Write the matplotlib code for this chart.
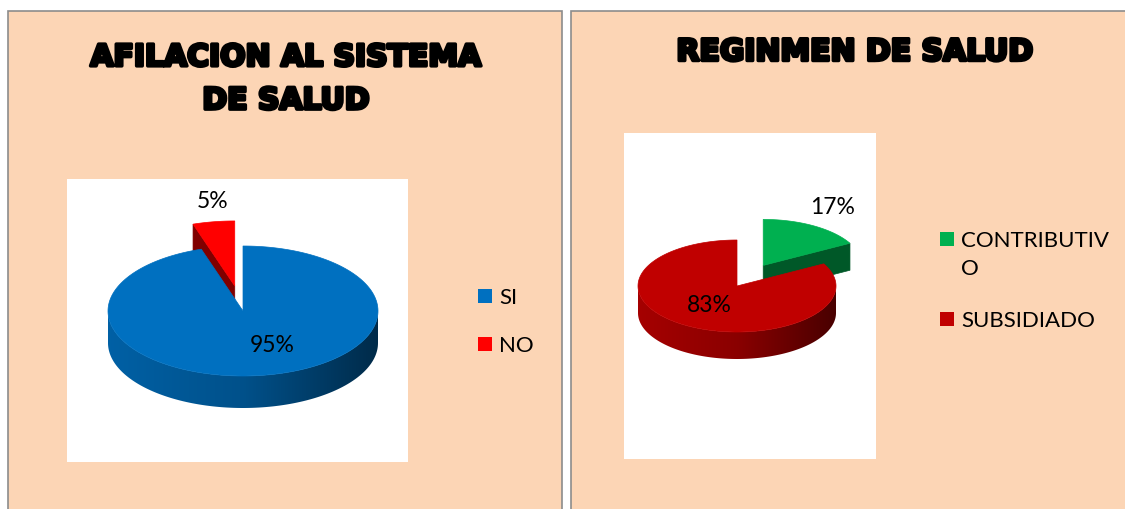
import numpy as np
import matplotlib
matplotlib.use("Agg")
import matplotlib.pyplot as plt
from matplotlib.patches import Rectangle, Polygon
from matplotlib.colors import to_rgb, LinearSegmentedColormap
import matplotlib.patheffects as pe

# Données
titulo_1 = "AFILACION AL SISTEMA\nDE SALUD"
categorias_1 = ["SI", "NO"]
valores_1 = [95, 5]
colores_1 = ["#0070C0", "#FF0000"]
separacion_1 = [0.0, 0.39]

titulo_2 = "REGINMEN DE SALUD"
categorias_2 = ["CONTRIBUTIVO", "SUBSIDIADO"]
valores_2 = [17, 83]
colores_2 = ["#00B050", "#C00000"]
separacion_2 = [0.52, 0.0]

W, H = 1125, 510
PEACH = "#FCD5B5"
FONT = "Lato"


def sombra(color, f):
    r, g, b = to_rgb(color)
    return (r * f, g * f, b * f)


def pie3d(ax, valores, colores, separacion, tilt, depth):
    total = float(sum(valores))
    inicio = 0.0
    trozos = []
    for v, c, e in zip(valores, colores, separacion):
        a1 = inicio
        a2 = inicio + 360.0 * v / total
        inicio = a2
        trozos.append((a1, a2, c, e))
    # los trozos de atras primero
    orden = sorted(range(len(trozos)),
                   key=lambda i: -trozos[i][3] * np.cos(np.radians((trozos[i][0] + trozos[i][1]) / 2)))
    z = 1
    for i in orden:
        a1, a2, c, e = trozos[i]
        mid = np.radians((a1 + a2) / 2)
        ox, oy = e * np.sin(mid), e * np.cos(mid)

        def scr(px, py, h=0.0):
            return (px, py * tilt + h)

        # caras de corte
        for a, vis in ((a1, np.sin(np.radians(a1)) < -1e-6), (a2, np.sin(np.radians(a2)) > 1e-6)):
            if vis:
                ex, ey = ox + np.sin(np.radians(a)), oy + np.cos(np.radians(a))
                pts = [scr(ox, oy), scr(ex, ey), scr(ex, ey, -depth), scr(ox, oy, -depth)]
                ax.add_patch(Polygon(pts, closed=True, facecolor=sombra(c, 0.5),
                                     edgecolor=sombra(c, 0.5), lw=0.5, zorder=z))
        # pared exterior (frente) con degradado
        w1, w2 = max(a1, 90.0), min(a2, 270.0)
        if w2 > w1:
            t = np.radians(np.linspace(w1, w2, 120))
            top = [scr(ox + np.sin(tt), oy + np.cos(tt)) for tt in t]
            bot = [scr(ox + np.sin(tt), oy + np.cos(tt), -depth) for tt in t[::-1]]
            pared = Polygon(top + bot, closed=True, facecolor="none", edgecolor="none", zorder=z)
            ax.add_patch(pared)
            cmap = LinearSegmentedColormap.from_list(
                "g", [sombra(c, 0.86), sombra(c, 0.72), sombra(c, 0.38)])
            grad = np.linspace(0, 1, 256).reshape(1, -1)
            im = ax.imshow(grad, cmap=cmap, aspect="auto", interpolation="bilinear",
                           extent=(ox - 1, ox + 1, oy * tilt - tilt - depth - 0.05, oy * tilt + 0.05),
                           zorder=z)
            im.set_clip_path(pared)
        # cara superior
        t = np.radians(np.linspace(a1, a2, 200))
        pts = [scr(ox, oy)] + [scr(ox + np.sin(tt), oy + np.cos(tt)) for tt in t]
        ax.add_patch(Polygon(pts, closed=True, facecolor=c, edgecolor=c, lw=0.5, zorder=z + 0.5))
        z += 1


def pie_axes(fig, caja, centro, rx, ry, depth_px):
    # caja: (x0, y0, x1, y1) en pixeles, y hacia abajo
    x0, y0, x1, y1 = caja
    ax = fig.add_axes([x0 / W, 1 - y1 / H, (x1 - x0) / W, (y1 - y0) / H])
    cx, cy = centro
    ax.set_facecolor("white")
    ax.set_xticks([])
    ax.set_yticks([])
    for s in ax.spines.values():
        s.set_visible(False)
    lims = ((x0 - cx) / rx, (x1 - cx) / rx, (cy - y1) / rx, (cy - y0) / rx)
    return ax, ry / rx, depth_px / rx, lims


fig = plt.figure(figsize=(W / 100, H / 100), dpi=100)
fig.patch.set_facecolor("white")
bg = fig.add_axes([0, 0, 1, 1])
bg.set_xlim(0, W)
bg.set_ylim(H, 0)
bg.axis("off")

# paneles
bg.add_patch(Rectangle((8, 12), 554, 510, facecolor=PEACH, edgecolor="#8C8C8C", lw=1.2))
bg.add_patch(Rectangle((571, 12), 560, 510, facecolor=PEACH, edgecolor="#8C8C8C", lw=1.2))

efecto = [pe.withStroke(linewidth=2.5, foreground="black")]
bg.text(286, 80, titulo_1, ha="center", va="center", fontsize=21.5, fontweight="bold",
        family="DejaVu Sans", linespacing=1.62, path_effects=efecto)
bg.text(855, 53, titulo_2, ha="center", va="center", fontsize=21.5, fontweight="bold",
        family="DejaVu Sans", path_effects=efecto)


def etiquetas(valores, posiciones):
    for v, (px, py) in zip(valores, posiciones):
        fig.text(px / W, 1 - py / H, f"{v}%", ha="center", va="center", fontsize=16.5,
                 family=FONT, zorder=10)


# grafico 1
ax1, tilt1, dep1, lims1 = pie_axes(fig, (67, 180, 408, 463), (243, 312), 135, 65, 32)
pie3d(ax1, valores_1, colores_1, separacion_1, tilt1, dep1)
ax1.set_xlim(lims1[0], lims1[1])
ax1.set_ylim(lims1[2], lims1[3])
etiquetas(valores_1, [(272, 346), (213, 202)])

# grafico 2
ax2, tilt2, dep2, lims2 = pie_axes(fig, (624, 134, 876, 460), (737, 287), 99, 46, 27)
pie3d(ax2, valores_2, colores_2, separacion_2, tilt2, dep2)
ax2.set_xlim(lims2[0], lims2[1])
ax2.set_ylim(lims2[2], lims2[3])
etiquetas(valores_2, [(833, 207), (709, 306)])


# leyendas
def leyenda(x, ys, etiquetas, colores):
    for y, lab, col in zip(ys, etiquetas, colores):
        if len(lab) > 11:
            lab = lab[:11] + "\n" + lab[11:]
        fig.patches.append(Rectangle((x / W, 1 - (y + 7) / H), 14 / W, 14 / H,
                                     transform=fig.transFigure, facecolor=col, edgecolor="none"))
        fig.text((x + 21) / W, 1 - (y - 9) / H, lab, ha="left", va="top", fontsize=16,
                 family=FONT, linespacing=1.5)


leyenda(478, [297, 345], categorias_1, colores_1)
leyenda(940, [240, 320], categorias_2, colores_2)

fig.savefig("out.png", dpi=100)
